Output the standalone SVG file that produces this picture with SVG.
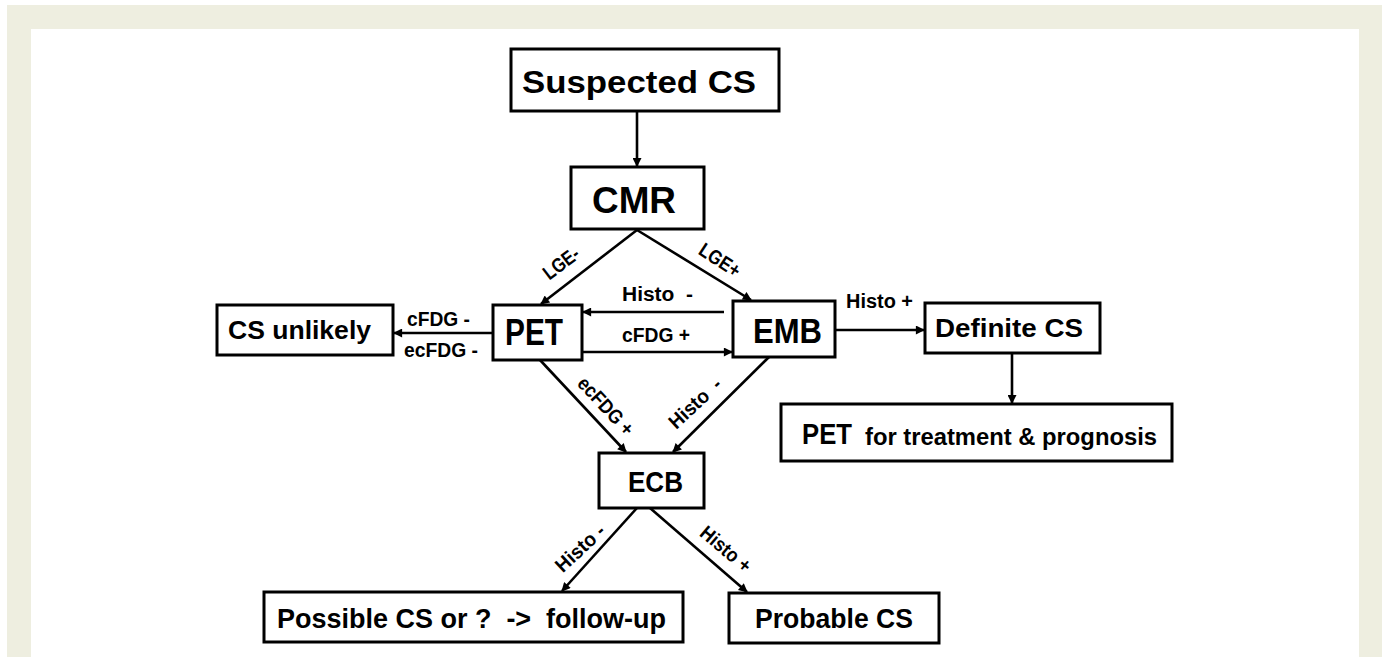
<svg xmlns="http://www.w3.org/2000/svg" width="1384" height="657" viewBox="0 0 1384 657">
<style>
.box{fill:#fff;stroke:#000;stroke-width:3}
.nt{font-family:"Liberation Sans",Arial,sans-serif;font-weight:bold;fill:#000;white-space:pre}
.el{font-family:"Liberation Sans",Arial,sans-serif;font-weight:bold;font-size:20px;fill:#000;white-space:pre}
.c{fill:none;stroke:#000;stroke-width:2.6;marker-end:url(#ah)}
</style>
<defs>
<marker id="ah" markerUnits="userSpaceOnUse" viewBox="0 0 10 10" refX="9" refY="5" markerWidth="11" markerHeight="9" orient="auto">
<path d="M0,0 L10,5 L0,10 z" fill="#000"/>
</marker>
</defs>
<rect x="0" y="0" width="1384" height="657" fill="#fff"/>
<rect x="7" y="5" width="1375" height="652" fill="#EEEEE0"/>
<rect x="31" y="29" width="1328" height="628" fill="#fff"/>

<g id="connectors">
<line class="c" x1="637" y1="111" x2="637" y2="166"/>
<line class="c" x1="637" y1="230" x2="541" y2="304"/>
<line class="c" x1="637" y1="230" x2="751" y2="300"/>
<line class="c" x1="724" y1="312" x2="583" y2="312"/>
<line class="c" x1="582" y1="352" x2="732" y2="352"/>
<line class="c" x1="493" y1="333" x2="394" y2="333"/>
<line class="c" x1="835" y1="330" x2="924" y2="330"/>
<line class="c" x1="1012" y1="353" x2="1012" y2="403"/>
<line class="c" x1="540" y1="360" x2="626" y2="452"/>
<line class="c" x1="769" y1="357" x2="673" y2="452"/>
<line class="c" x1="637" y1="508" x2="562" y2="591"/>
<line class="c" x1="650" y1="508" x2="747" y2="592"/>
<text class="el" transform="translate(561,263) rotate(-37)" y="7" text-anchor="middle" textLength="40" lengthAdjust="spacingAndGlyphs">LGE-</text>
<text class="el" transform="translate(720,260) rotate(33)" y="7" text-anchor="middle" textLength="45" lengthAdjust="spacingAndGlyphs">LGE+</text>
<text class="el" x="622" y="301" textLength="71" lengthAdjust="spacingAndGlyphs">Histo  -</text>
<text class="el" x="622" y="342" textLength="68" lengthAdjust="spacingAndGlyphs">cFDG +</text>
<text class="el" x="407" y="326" textLength="63" lengthAdjust="spacingAndGlyphs">cFDG -</text>
<text class="el" x="404" y="357" textLength="74" lengthAdjust="spacingAndGlyphs">ecFDG -</text>
<text class="el" x="846" y="308" textLength="67" lengthAdjust="spacingAndGlyphs">Histo +</text>
<text class="el" transform="translate(606,406) rotate(47)" y="7" text-anchor="middle" textLength="72" lengthAdjust="spacingAndGlyphs">ecFDG +</text>
<text class="el" transform="translate(695,403) rotate(-43)" y="7" text-anchor="middle" textLength="64" lengthAdjust="spacingAndGlyphs">Histo  -</text>
<text class="el" transform="translate(580,548) rotate(-43)" y="7" text-anchor="middle" textLength="60" lengthAdjust="spacingAndGlyphs">Histo -</text>
<text class="el" transform="translate(726,549) rotate(40)" y="7" text-anchor="middle" textLength="60" lengthAdjust="spacingAndGlyphs">Histo +</text>
</g>

<g id="suspected">
<rect class="box" x="511" y="49" width="268" height="62"/>
<text class="nt" x="522" y="93" font-size="32" textLength="234" lengthAdjust="spacingAndGlyphs">Suspected CS</text>
</g>
<g id="cmr">
<rect class="box" x="571" y="167" width="133" height="62"/>
<text class="nt" x="592" y="213" font-size="37" textLength="84" lengthAdjust="spacingAndGlyphs">CMR</text>
</g>
<g id="cs-unlikely">
<rect class="box" x="217" y="305" width="176" height="50"/>
<text class="nt" x="228" y="339" font-size="26" textLength="143" lengthAdjust="spacingAndGlyphs">CS unlikely</text>
</g>
<g id="pet">
<rect class="box" x="493" y="305" width="89" height="55"/>
<text class="nt" x="505" y="345" font-size="36" textLength="58" lengthAdjust="spacingAndGlyphs">PET</text>
</g>
<g id="emb">
<rect class="box" x="733" y="301" width="102" height="56"/>
<text class="nt" x="753" y="343" font-size="35" textLength="69" lengthAdjust="spacingAndGlyphs">EMB</text>
</g>
<g id="definite">
<rect class="box" x="925" y="303" width="175" height="50"/>
<text class="nt" x="935" y="337" font-size="25" textLength="148" lengthAdjust="spacingAndGlyphs">Definite CS</text>
</g>
<g id="pet-treatment">
<rect class="box" x="781" y="404" width="391" height="57"/>
<text class="nt" x="802" y="444" font-size="30" textLength="50" lengthAdjust="spacingAndGlyphs">PET</text>
<text class="nt" x="865" y="445" font-size="23" textLength="292" lengthAdjust="spacingAndGlyphs">for treatment &amp; prognosis</text>
</g>
<g id="ecb">
<rect class="box" x="599" y="453" width="105" height="55"/>
<text class="nt" x="628" y="492" font-size="30" textLength="55" lengthAdjust="spacingAndGlyphs">ECB</text>
</g>
<g id="possible">
<rect class="box" x="264" y="592" width="419" height="50"/>
<text class="nt" x="277" y="628" font-size="28" textLength="389" lengthAdjust="spacingAndGlyphs">Possible CS or ?  -&gt;  follow-up</text>
</g>
<g id="probable">
<rect class="box" x="729" y="593" width="210" height="50"/>
<text class="nt" x="755" y="628" font-size="28" textLength="158" lengthAdjust="spacingAndGlyphs">Probable CS</text>
</g>
</svg>
